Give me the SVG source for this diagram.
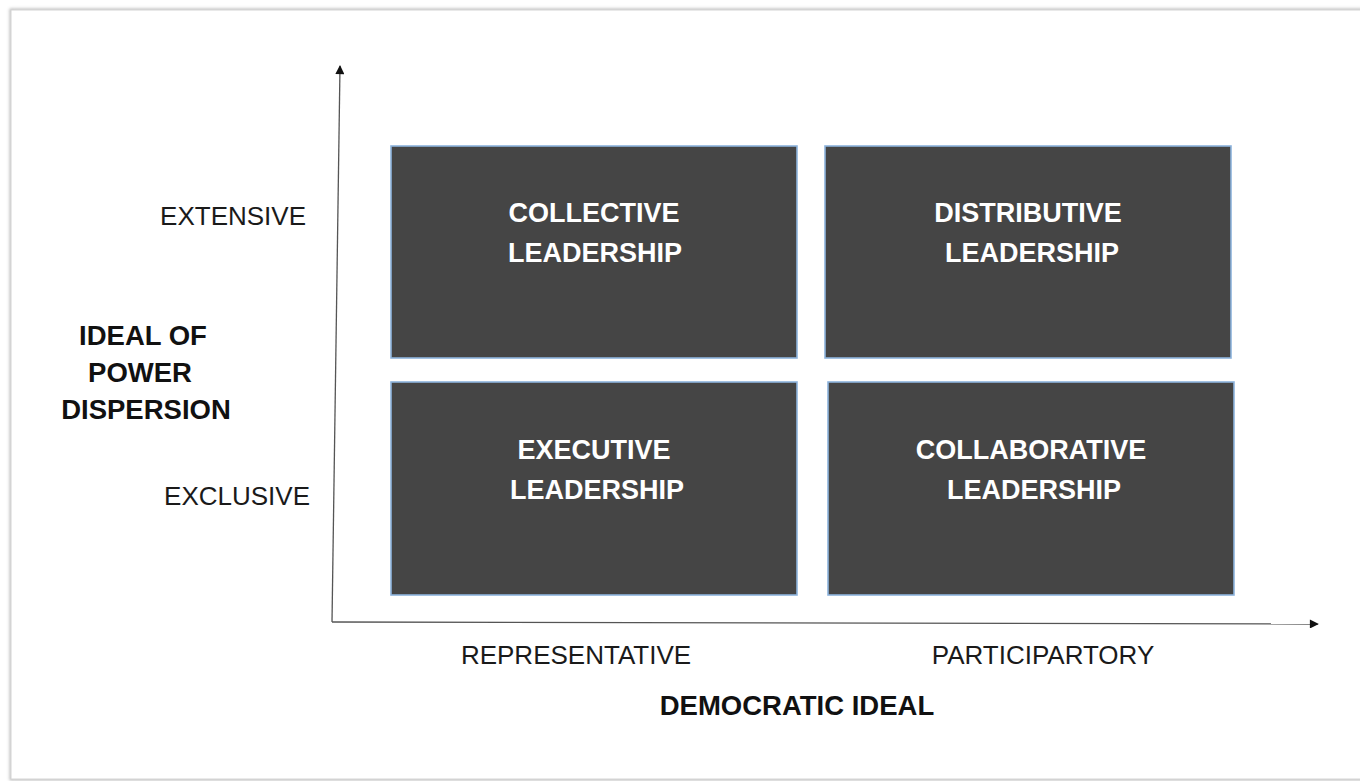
<svg xmlns="http://www.w3.org/2000/svg" width="1360" height="781" viewBox="0 0 1360 781">
  <defs>
    <marker id="arrow" viewBox="0 0 10 10" refX="9" refY="5" markerWidth="10" markerHeight="9" markerUnits="userSpaceOnUse" orient="auto">
      <path d="M0,0 L10,5 L0,10 z" fill="#111"/>
    </marker>
    <filter id="shadow" x="-5%" y="-5%" width="110%" height="110%">
      <feGaussianBlur stdDeviation="1.5"/>
    </filter>
  </defs>
  <style>
    .box { fill: #454545; stroke: #8db3dd; stroke-width: 1.6; }
    .boxtext { font-family: "Liberation Sans", Arial, sans-serif; font-weight: bold; font-size: 27px; fill: #ffffff; text-anchor: middle; }
    .label { font-family: "Liberation Sans", Arial, sans-serif; font-size: 26px; fill: #1a1a1a; }
    .title { font-family: "Liberation Sans", Arial, sans-serif; font-weight: bold; font-size: 27.5px; fill: #111111; text-anchor: middle; }
    .axis { stroke: #555555; stroke-width: 1.3; fill: none; }
  </style>
  <rect x="0" y="0" width="1360" height="781" fill="#ffffff"/>
  <rect x="11" y="10" width="1400" height="769" fill="none" stroke="#bbbbbb" stroke-width="3" filter="url(#shadow)"/>
  <rect x="11" y="10" width="1400" height="769" fill="#ffffff" stroke="#d4d4d4" stroke-width="1"/>

  <g id="connectors">
    <line class="axis" x1="332" y1="622" x2="340" y2="66" marker-end="url(#arrow)"/>
    <line class="axis" x1="332" y1="622" x2="1318" y2="624" marker-end="url(#arrow)"/>
  </g>

  <g id="collective">
    <rect class="box" x="391" y="146" width="406" height="212"/>
    <text class="boxtext" x="594" y="222">COLLECTIVE</text>
    <text class="boxtext" x="595" y="262">LEADERSHIP</text>
  </g>
  <g id="distributive">
    <rect class="box" x="825" y="146" width="406" height="212"/>
    <text class="boxtext" x="1028" y="222">DISTRIBUTIVE</text>
    <text class="boxtext" x="1032" y="262">LEADERSHIP</text>
  </g>
  <g id="executive">
    <rect class="box" x="391" y="382" width="406" height="213"/>
    <text class="boxtext" x="594" y="459">EXECUTIVE</text>
    <text class="boxtext" x="597" y="499">LEADERSHIP</text>
  </g>
  <g id="collaborative">
    <rect class="box" x="828" y="382" width="406" height="213"/>
    <text class="boxtext" x="1031" y="459">COLLABORATIVE</text>
    <text class="boxtext" x="1034" y="499">LEADERSHIP</text>
  </g>

  <g id="y-labels">
    <text class="label" x="306" y="225" text-anchor="end">EXTENSIVE</text>
    <text class="label" x="310" y="505" text-anchor="end">EXCLUSIVE</text>
    <text class="title" x="143" y="345">IDEAL OF</text>
    <text class="title" x="140" y="382">POWER</text>
    <text class="title" x="146" y="419">DISPERSION</text>
  </g>
  <g id="x-labels">
    <text class="label" x="576" y="664" text-anchor="middle">REPRESENTATIVE</text>
    <text class="label" x="1043" y="664" text-anchor="middle">PARTICIPARTORY</text>
    <text class="title" x="797" y="715">DEMOCRATIC IDEAL</text>
  </g>
</svg>
